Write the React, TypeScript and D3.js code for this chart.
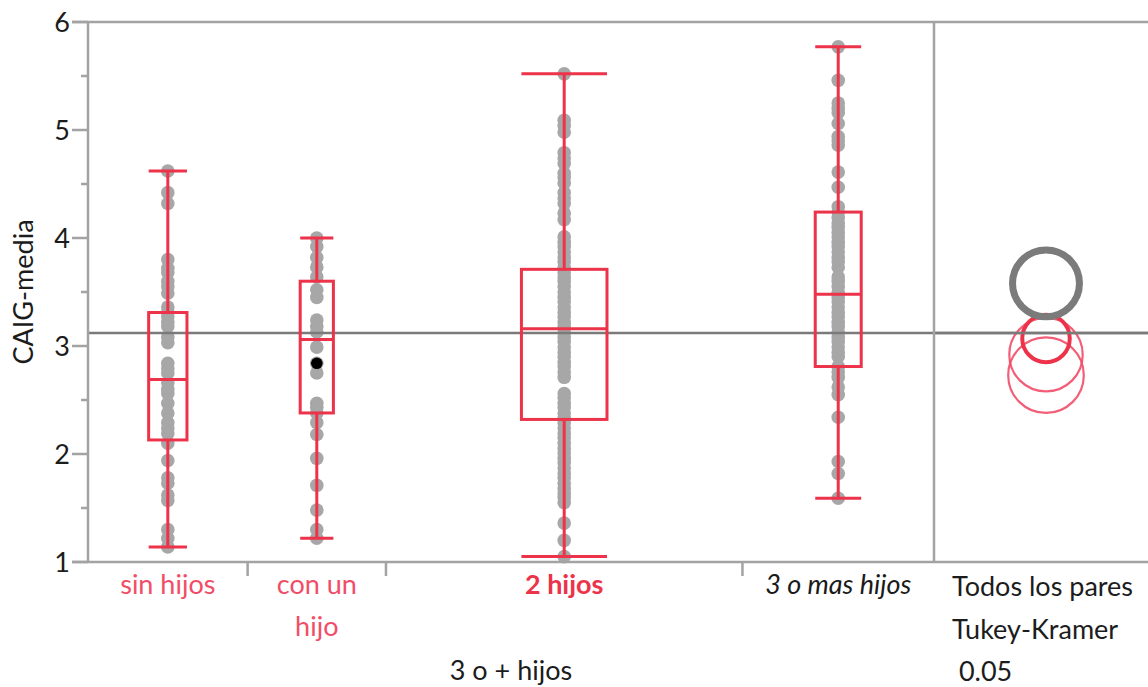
import React from 'react';
import * as d3 from 'd3';

// Groups of the "3 o + hijos" factor and their sizes (sets the proportional x widths)
const categories = ['sin hijos', 'con un hijo', '2 hijos', '3 o mas hijos'];
const groupN = [30, 26, 67, 36];

// CAIG-media observations per group
const sinHijos = [4.62, 4.42, 4.32, 3.8, 3.72, 3.68, 3.6, 3.55, 3.49, 3.36, 3.31, 3.27, 3.22, 3.18, 3.08, 3.03, 2.84, 2.79, 2.75, 2.66, 2.6, 2.56, 2.47, 2.38, 2.29, 2.24, 2.19, 2.1, 1.94, 1.78, 1.73, 1.62, 1.57, 1.3, 1.22, 1.14];
const conUnHijo = [4.0, 3.92, 3.82, 3.73, 3.64, 3.52, 3.45, 3.24, 3.18, 3.13, 2.99, 2.84, 2.75, 2.47, 2.43, 2.38, 2.29, 2.18, 1.96, 1.71, 1.48, 1.3, 1.22];
const dosHijos = [5.52, 5.09, 5.04, 4.98, 4.79, 4.74, 4.69, 4.6, 4.56, 4.51, 4.42, 4.37, 4.32, 4.23, 4.17, 4.01, 3.96, 3.92, 3.87, 3.82, 3.78, 3.73, 3.68, 3.64, 3.6, 3.55, 3.5, 3.45, 3.41, 3.36, 3.31, 3.27, 3.22, 3.18, 3.13, 3.08, 3.04, 2.99, 2.94, 2.9, 2.85, 2.81, 2.76, 2.71, 2.56, 2.52, 2.47, 2.43, 2.38, 2.33, 2.29, 2.24, 2.19, 2.15, 2.1, 2.05, 2.01, 1.96, 1.92, 1.87, 1.82, 1.78, 1.73, 1.68, 1.64, 1.6, 1.55, 1.36, 1.2, 1.05];
const tresOMas = [5.77, 5.46, 5.25, 5.2, 5.16, 5.06, 4.94, 4.9, 4.86, 4.61, 4.47, 4.29, 4.24, 4.19, 4.14, 4.1, 4.05, 4.01, 3.96, 3.92, 3.87, 3.82, 3.78, 3.73, 3.64, 3.6, 3.55, 3.5, 3.45, 3.41, 3.36, 3.31, 3.27, 3.22, 3.18, 3.13, 3.08, 3.04, 2.99, 2.94, 2.9, 2.81, 2.76, 2.71, 2.62, 2.55, 2.34, 1.93, 1.82, 1.59];
const groupValues = [sinHijos, conUnHijo, dosHijos, tresOMas];

// Highlighted row (con un hijo)
const highlightedGroup = 1;
const highlightedValue = 2.84;

// Box plot statistics
const whiskerLow = [1.14, 1.22, 1.05, 1.59];
const quartile1 = [2.13, 2.38, 2.32, 2.81];
const medians = [2.69, 3.06, 3.16, 3.48];
const quartile3 = [3.31, 3.6, 3.71, 4.24];
const whiskerHigh = [4.62, 4.0, 5.52, 5.77];

const grandMean = 3.12;

// Tukey-Kramer comparison circles: group means and radii (in CAIG-media units)
const groupMeans = [2.73, 2.92, 3.07, 3.58];
const circleRadius = [0.35, 0.34, 0.22, 0.31];
// 0 = not different (thin red), 1 = selected group (thick red), 2 = significantly different (gray)
const circleKind = [0, 0, 1, 2];

const yTicks = [1, 2, 3, 4, 5, 6];
const yMinorTicks = [1.5, 2.5, 3.5, 4.5, 5.5];
const comparisonLines = ['Todos los pares', 'Tukey-Kramer', ' 0.05'];

const W = 1148;
const H = 687;
const left = 88;
const top = 22;
const bottom = 562;
const panelX = 934;
const circleX = 1046;
const FONT = 'Lato, "Open Sans", sans-serif';
const FS = 27;
const RED = '#ec3349';
const LIGHT_RED = '#f14d68';
const AXIS = '#a3a3a3';

export default function App() {
  const y = d3.scaleLinear().domain([1, 6]).range([bottom, top]);
  const total = d3.sum(groupN);
  const x = d3.scaleLinear().domain([0, total]).range([left, panelX]);
  const edges = [0, ...d3.cumsum(groupN)];
  const bands = categories.map((c, i) => ({
    x0: x(edges[i]),
    x1: x(edges[i + 1]),
    cx: (x(edges[i]) + x(edges[i + 1])) / 2,
  }));

  const labelStyle = (i: number) => {
    if (circleKind[i] === 1) return { fill: RED, fontWeight: 700 as const, fontStyle: 'normal' };
    if (circleKind[i] === 2) return { fill: '#1a1a1a', fontWeight: 400 as const, fontStyle: 'italic' };
    return { fill: LIGHT_RED, fontWeight: 400 as const, fontStyle: 'normal' };
  };

  const labelLines = ['sin hijos', 'con un|hijo', '2 hijos', '3 o mas hijos'];
  const rpx = (r: number) => y(1) - y(1 + r);

  return (
    <svg width={W} height={H} style={{ position: 'absolute', left: 0, top: 0, background: '#fff' }} fontFamily={FONT}>
      <defs>
        <filter id="soft" x="-50%" y="-50%" width="200%" height="200%">
          <feGaussianBlur stdDeviation="0.6" />
        </filter>
      </defs>

      {/* points */}
      <g fill="#a7a7a7" filter="url(#soft)">
        {groupValues.map((vals, gi) =>
          vals.map((v, k) => <circle key={`${gi}-${k}`} cx={bands[gi].cx} cy={y(v)} r={6.8} />)
        )}
      </g>
      <circle cx={bands[highlightedGroup].cx} cy={y(highlightedValue)} r={5.8} fill="#000" />

      {/* grand mean */}
      <line x1={left} x2={W} y1={y(grandMean)} y2={y(grandMean)} stroke="#7a7a7a" strokeWidth={2.5} />

      {/* box plots */}
      <g stroke={RED} strokeWidth={3} fill="none">
        {bands.map((b, i) => {
          const hw = (b.x1 - b.x0) * 0.12;
          return (
            <g key={i}>
              <line x1={b.cx} x2={b.cx} y1={y(whiskerHigh[i])} y2={y(quartile3[i])} />
              <line x1={b.cx} x2={b.cx} y1={y(quartile1[i])} y2={y(whiskerLow[i])} />
              <line x1={b.cx - hw} x2={b.cx + hw} y1={y(whiskerHigh[i])} y2={y(whiskerHigh[i])} />
              <line x1={b.cx - hw} x2={b.cx + hw} y1={y(whiskerLow[i])} y2={y(whiskerLow[i])} />
              <rect x={b.cx - hw} y={y(quartile3[i])} width={hw * 2} height={y(quartile1[i]) - y(quartile3[i])} />
              <line x1={b.cx - hw} x2={b.cx + hw} y1={y(medians[i])} y2={y(medians[i])} />
            </g>
          );
        })}
      </g>

      {/* comparison circles */}
      <g fill="none">
        {groupMeans.map((m, i) =>
          circleKind[i] === 0 ? (
            <circle key={i} cx={circleX} cy={y(m)} r={rpx(circleRadius[i])} stroke={LIGHT_RED} strokeWidth={2.2} opacity={0.9} />
          ) : null
        )}
        {groupMeans.map((m, i) =>
          circleKind[i] === 1 ? (
            <circle key={i} cx={circleX} cy={y(m)} r={rpx(circleRadius[i])} stroke={RED} strokeWidth={4} />
          ) : null
        )}
        {groupMeans.map((m, i) =>
          circleKind[i] === 2 ? (
            <circle key={i} cx={circleX} cy={y(m)} r={rpx(circleRadius[i])} stroke="#7b7b7b" strokeWidth={7} />
          ) : null
        )}
      </g>
      <line x1={panelX} x2={W} y1={y(grandMean)} y2={y(grandMean)} stroke="#7a7a7a" strokeWidth={2.5} />

      {/* frame and axes */}
      <g stroke={AXIS} strokeWidth={2.5}>
        <line x1={72} x2={W} y1={top} y2={top} />
        <line x1={72} x2={W} y1={bottom} y2={bottom} />
        <line x1={left} x2={left} y1={top} y2={bottom} />
        <line x1={panelX} x2={panelX} y1={top} y2={bottom} />
        {yTicks.map((t) => (
          <line key={t} x1={72} x2={left} y1={y(t)} y2={y(t)} />
        ))}
        {yMinorTicks.map((t) => (
          <line key={t} x1={81} x2={left} y1={y(t)} y2={y(t)} />
        ))}
        {edges.slice(1, -1).map((e, i) => (
          <line key={i} x1={x(e)} x2={x(e)} y1={bottom} y2={bottom + 14} />
        ))}
      </g>

      {/* y tick labels */}
      <g fontSize={FS} fill="#1c1c1c" textAnchor="end">
        {yTicks.map((t) => (
          <text key={t} x={70} y={y(t)} dy="0.36em">
            {t}
          </text>
        ))}
      </g>

      {/* y title */}
      <text transform={`translate(33,${(top + bottom) / 2}) rotate(-90)`} textAnchor="middle" fontSize={FS} fill="#1c1c1c">
        CAIG-media
      </text>

      {/* category labels */}
      <g fontSize={FS} textAnchor="middle">
        {labelLines.map((lbl, i) => {
          const st = labelStyle(i);
          return lbl.split('|').map((part, k) => (
            <text key={`${i}-${k}`} x={bands[i].cx} y={594 + k * 42} fill={st.fill} fontWeight={st.fontWeight} fontStyle={st.fontStyle}>
              {part}
            </text>
          ));
        })}
      </g>

      {/* x title */}
      <text x={(left + panelX) / 2} y={680} textAnchor="middle" fontSize={FS} fill="#1c1c1c">
        3 o + hijos
      </text>

      {/* comparison panel caption */}
      <g fontSize={FS} fill="#1c1c1c">
        {comparisonLines.map((s, i) => (
          <text key={i} x={952} y={596 + i * 42.5} style={{ whiteSpace: 'pre' }}>
            {s}
          </text>
        ))}
      </g>
    </svg>
  );
}
